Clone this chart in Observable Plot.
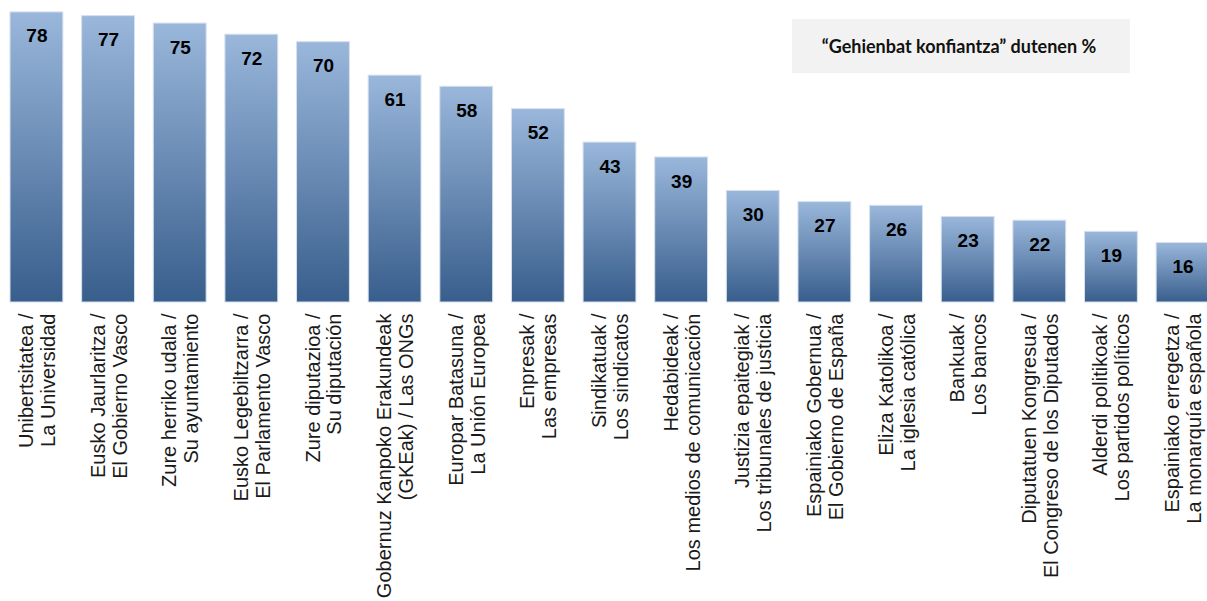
<!DOCTYPE html>
<html>
<head>
<meta charset="utf-8">
<script src="https://cdn.jsdelivr.net/npm/d3@7"></script>
<script src="https://cdn.jsdelivr.net/npm/@observablehq/plot@0.6"></script>
<style>
  body { margin: 0; background: #fff; }
  #wrap { position: relative; width: 1207px; height: 601px; overflow: hidden; }
  #legend {
    position: absolute; left: 792px; top: 19px; width: 338px; height: 54px;
    background: #f2f2f2; font-family: Lato, "Open Sans", sans-serif; font-weight: bold;
    font-size: 18px; color: #111; display: flex; align-items: center; justify-content: center;
    padding-right: 4px; box-sizing: border-box;
  }
</style>
</head>
<body>
<div id="wrap"><div id="legend">“Gehienbat konfiantza” dutenen %</div></div>
<script>
const categories = [
  "Unibertsitatea /\nLa Universidad",
  "Eusko Jaurlaritza /\nEl Gobierno Vasco",
  "Zure herriko udala /\nSu ayuntamiento",
  "Eusko Legebiltzarra /\nEl Parlamento Vasco",
  "Zure diputazioa /\nSu diputación",
  "Gobernuz Kanpoko Erakundeak\n(GKEak) / Las ONGs",
  "Europar Batasuna /\nLa Unión Europea",
  "Enpresak /\nLas empresas",
  "Sindikatuak /\nLos sindicatos",
  "Hedabideak /\nLos medios de comunicación",
  "Justizia epaitegiak /\nLos tribunales de justicia",
  "Espainiako Gobernua /\nEl Gobierno de España",
  "Eliza Katolikoa /\nLa iglesia católica",
  "Bankuak /\nLos bancos",
  "Diputatuen Kongresua /\nEl Congreso de los Diputados",
  "Alderdi politikoak /\nLos partidos políticos",
  "Espainiako erregetza /\nLa monarquía española"
];
const values = [78, 77, 75, 72, 70, 61, 58, 52, 43, 39, 30, 27, 26, 23, 22, 19, 16];

const data = categories.map((c, i) => ({label: c, value: values[i]}));

const chart = Plot.plot({
  width: 1207,
  height: 601,
  marginTop: 0,
  marginBottom: 299,
  marginLeft: 10,
  marginRight: 0,
  style: {fontFamily: "'Liberation Sans', Arial, sans-serif", background: "transparent"},
  x: {domain: categories, range: [10, 1209], paddingInner: 0.262, paddingOuter: 0, round: false, axis: null},
  y: {domain: [0, 81.2], axis: null},
  marks: [
    Plot.barY(data, {x: "label", y: "value", fill: "url(#barGrad)", stroke: "#d6e0ee", strokeWidth: 1}),
    Plot.text(data, {x: "label", y: "value", text: d => String(d.value), dy: 24,
      fontSize: 19, fontWeight: "bold", fill: "#000", lineAnchor: "middle"}),
    Plot.text(data, {x: "label", y: () => 0, text: "label", dy: 11, rotate: -90,
      textAnchor: "end", lineAnchor: "middle", lineHeight: 1.1, fontSize: 20, fill: "#1a1a1a"})
  ]
});

const svg = d3.select(chart);
const defs = svg.insert("defs", ":first-child");
const g = defs.append("linearGradient").attr("id", "barGrad")
  .attr("x1", 0).attr("y1", 0).attr("x2", 0).attr("y2", 1);
g.append("stop").attr("offset", "0%").attr("stop-color", "#9ab7db");
g.append("stop").attr("offset", "100%").attr("stop-color", "#385e8c");

document.getElementById("wrap").prepend(chart);
chart.style.position = "absolute";
chart.style.left = "0px";
chart.style.top = "0px";
</script>
</body>
</html>
